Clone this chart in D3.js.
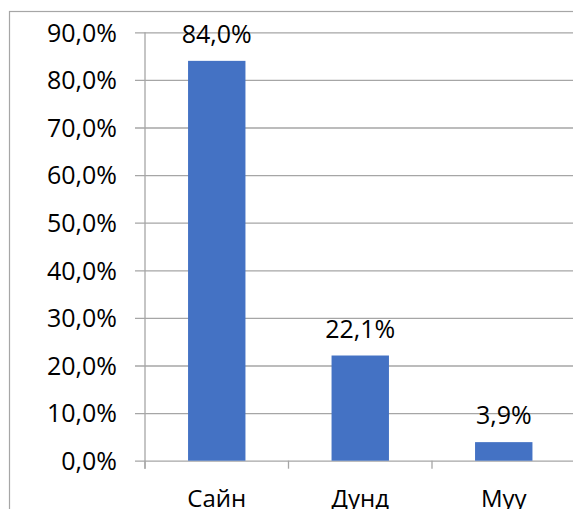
<!DOCTYPE html>
<html>
<head>
<meta charset="utf-8">
<script src="https://cdn.jsdelivr.net/npm/d3@7"></script>
<style>
 body{margin:0;background:#fff;}
 text{font-family:"Open Sans","Noto Sans",sans-serif;fill:#000;}
</style>
</head>
<body>
<div id="chart"></div>
<script>
var categories = ["Сайн", "Дунд", "Муу"];
var values = [84.0, 22.1, 3.9];
var yTicks = [0, 10, 20, 30, 40, 50, 60, 70, 80, 90];

var width = 573, height = 509;
var plotLeft = 145, plotRight = 575.5, plotTop = 32.3, plotBottom = 460.7;

var svg = d3.select('#chart').append('svg')
  .attr('width', width)
  .attr('height', height)
  .style('display', 'block');

// chart frame (cut by the picture edge)
svg.append('rect')
  .attr('x', 9.5).attr('y', 11.5)
  .attr('width', 600).attr('height', 600)
  .attr('fill', 'none')
  .attr('stroke', '#a6a6a6')
  .attr('stroke-width', 1.2);

var fmt = function(v){ return v.toFixed(1).replace('.', ',') + '%'; };

var x = d3.scaleBand().domain(categories).range([plotLeft, plotRight]).paddingInner(0.6).paddingOuter(0.3);
var y = d3.scaleLinear().domain([0, 90]).range([plotBottom, plotTop]);

// gridlines + y labels
var yAxis = svg.append('g').attr('transform', 'translate(' + plotLeft + ',0)')
  .call(d3.axisLeft(y).tickValues(yTicks).tickFormat(function(d){ return fmt(d); })
        .tickSize(-(width - plotLeft + 10)).tickPadding(0));
yAxis.select('.domain').remove();
yAxis.selectAll('.tick line').attr('stroke', '#a6a6a6').attr('stroke-width', 1.3)
  .attr('x1', -10);
yAxis.selectAll('.tick text').attr('x', -28).attr('font-size', 25)
  .attr('dy', '0.35em')
  .style('font-family', '"Open Sans","Noto Sans",sans-serif');

// vertical axis line
svg.append('line')
  .attr('x1', plotLeft).attr('x2', plotLeft)
  .attr('y1', plotTop).attr('y2', plotBottom + 8)
  .attr('stroke', '#a6a6a6').attr('stroke-width', 1.3);

// category tick marks
var step = x.step();
var bounds = [0, 1, 2, 3].map(function(i){ return plotLeft + i * step; });
svg.selectAll('.ctick').data(bounds).enter().append('line')
  .attr('x1', function(d){ return d; }).attr('x2', function(d){ return d; })
  .attr('y1', plotBottom).attr('y2', plotBottom + 8)
  .attr('stroke', '#a6a6a6').attr('stroke-width', 1.3);

// bars
svg.selectAll('.bar').data(values).enter().append('rect')
  .attr('x', function(d, i){ return x(categories[i]); })
  .attr('y', function(d){ return y(d); })
  .attr('width', x.bandwidth())
  .attr('height', function(d){ return plotBottom - y(d); })
  .attr('fill', '#4472c4');

// data labels
svg.selectAll('.lbl').data(values).enter().append('text')
  .attr('x', function(d, i){ return x(categories[i]) + x.bandwidth() / 2; })
  .attr('y', function(d){ return y(d) - 18; })
  .attr('text-anchor', 'middle')
  .attr('font-size', 25)
  .text(function(d){ return fmt(d); });

// category labels
svg.selectAll('.cat').data(categories).enter().append('text')
  .attr('x', function(d){ return x(d) + x.bandwidth() / 2; })
  .attr('y', 507)
  .attr('text-anchor', 'middle')
  .attr('font-size', 24)
  .text(function(d){ return d; });
</script>
</body>
</html>
